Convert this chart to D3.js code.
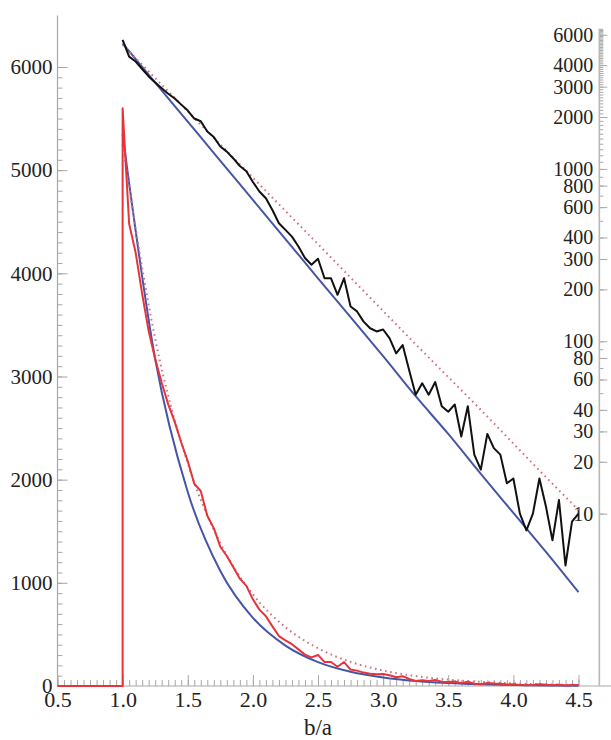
<!DOCTYPE html>
<html><head><meta charset="utf-8">
<script src="https://cdn.jsdelivr.net/npm/d3@7"></script>
<style>
body{margin:0;background:#fff}
</style>
</head><body>
<svg id="c" width="611" height="740"></svg>
<script>
// ---- data ----
// histogram bins of b/a (width 0.05) starting at 1.0
const binX = d3.range(0, 71).map(i => +(1 + i * 0.05).toFixed(2));
const counts = [
  5600, 4480, 4200, 3800, 3440, 3170, 2940, 2730, 2560, 2360,
  2180, 1960, 1890, 1650, 1530, 1350, 1260, 1150, 1040, 970,
  840, 740, 676, 578, 484, 443, 405, 355, 304, 278,
  301, 232, 232, 186, 232, 159, 149, 130, 119, 114,
  117, 104, 85, 95, 68, 49, 57, 49, 58, 42,
  39, 43, 28, 42, 22, 18, 29, 24, 22, 15,
  16, 10, 8, 10, 16, 11, 7, 12, 5, 9, 10
];
// empty range before b/a = 1
const zeroX = [0.5, 1.0];
const zeroCounts = [0, 0];
// fitted curves
const fitX = [1.0, 1.25, 1.5, 1.75, 2.0, 2.25, 2.5, 2.75, 3.0, 3.25, 3.5, 3.75, 4.0, 4.25, 4.5];
const blueFit = [5350, 3170, 1880, 1115, 661, 392, 232, 138, 82, 48, 29, 17, 10.1, 6.0, 3.5];
const dotFit  = [5250, 3365, 2160, 1385, 889, 570, 366, 234, 150, 96, 62, 40, 25.5, 16.3, 10.5];
// ticks
const xMajor = [0.5, 1.0, 1.5, 2.0, 2.5, 3.0, 3.5, 4.0, 4.5];
const xMinor = d3.range(0, 81).map(i => +(0.5 + i * 0.05).toFixed(2));
const yMajor = [0, 1000, 2000, 3000, 4000, 5000, 6000];
const yMinor = d3.range(0, 61).map(i => i * 100);
const logMajor = [10, 20, 30, 40, 60, 80, 100, 200, 300, 400, 600, 800, 1000, 2000, 3000, 4000, 6000];
const logMinor = [10,20,30,40,50,60,70,80,90,100,200,300,400,500,600,700,800,900]
  .concat(d3.range(10, 66).map(i => i * 100));

// ---- layout ----
const W = 611, H = 740;
const FONT = "'Liberation Serif', 'Times New Roman', Times, serif";
const svg = d3.select("#c");
const x = d3.scaleLinear().domain([0.5, 4.5]).range([57.5, 578.5]);
const yLin = d3.scaleLinear().domain([0, 6500]).range([686, 15.4]);
const yLog = d3.scaleLog().domain([1, 6500]).range([686, 28.8]);
const rightX = x(4.66);

const gray = "#a8a8a8";

// left axis
const gL = svg.append("g").attr("transform", `translate(${x(0.5)},0)`);
gL.append("g").call(d3.axisLeft(yLin).tickValues(yMinor).tickSizeInner(-5).tickSizeOuter(0).tickFormat(""));
gL.append("g").call(d3.axisLeft(yLin).tickValues(yMajor).tickSizeInner(-10).tickSizeOuter(0).tickPadding(5).tickFormat(d3.format("d")));
gL.selectAll("text").style("font-size", "21px");

// bottom axis
const gB = svg.append("g").attr("transform", `translate(0,${yLin(0)})`);
gB.append("g").call(d3.axisBottom(x).tickValues(xMinor).tickSizeInner(-6).tickSizeOuter(0).tickFormat(""));
gB.append("g").call(d3.axisBottom(x).tickValues(xMajor).tickSizeInner(-11).tickSizeOuter(0).tickPadding(5).tickFormat(d3.format(".1f")));
gB.selectAll("text").style("font-size", "22px");

// right log axis
const gR = svg.append("g").attr("transform", `translate(${rightX},0)`);
gR.append("g").call(d3.axisLeft(yLog).tickValues(logMinor).tickSizeInner(-4).tickSizeOuter(0).tickFormat(""));
gR.append("g").call(d3.axisLeft(yLog).tickValues(logMajor).tickSizeInner(-8).tickSizeOuter(0).tickPadding(6).tickFormat(d3.format("d")));
gR.selectAll("text").style("font-size", "20px");

svg.selectAll(".domain").remove();
svg.selectAll(".tick line").attr("stroke", gray);

// axis lines
svg.append("line").attr("x1", x(0.5)).attr("x2", x(0.5)).attr("y1", yLin(6500)).attr("y2", yLin(0))
  .attr("stroke", gray).attr("stroke-width", 1.2);
svg.append("line").attr("x1", x(0.5)).attr("x2", W).attr("y1", yLin(0)).attr("y2", yLin(0))
  .attr("stroke", gray).attr("stroke-width", 1.2);
svg.append("line").attr("x1", rightX).attr("x2", rightX).attr("y1", yLog(6500)).attr("y2", yLog(1))
  .attr("stroke", "#b8b8b8").attr("stroke-width", 1.6);

// axis title
svg.append("text").attr("x", x(2.5)).attr("y", 735).attr("text-anchor", "middle")
  .style("font-size", "23px").text("b/a");

svg.selectAll("text").style("font-family", FONT).attr("fill", "#222");

// ---- series ----
const fitPts = fitX.map((v, i) => ({x: v, b: blueFit[i], d: dotFit[i]}));
const histPts = binX.map((v, i) => ({x: v, c: counts[i]}));
const linPts = zeroX.map((v, i) => ({x: v, c: zeroCounts[i]})).concat(histPts);

const blue = "#4656a6", red = "#e8333b", dot = "#d0717d";

// linear: blue fit
svg.append("path").datum(fitPts).attr("fill", "none").attr("stroke", blue).attr("stroke-width", 2)
  .attr("d", d3.line().x(d => x(d.x)).y(d => yLin(d.b)).curve(d3.curveMonotoneX));
// log: blue fit
svg.append("path").datum(fitPts).attr("fill", "none").attr("stroke", blue).attr("stroke-width", 2)
  .attr("d", d3.line().x(d => x(d.x)).y(d => yLog(d.b)).curve(d3.curveMonotoneX));
// dotted fits
svg.append("path").datum(fitPts).attr("fill", "none").attr("stroke", dot).attr("stroke-width", 2)
  .attr("stroke-dasharray", "1.6,3.6")
  .attr("d", d3.line().x(d => x(d.x)).y(d => yLin(d.d)).curve(d3.curveMonotoneX));
svg.append("path").datum(fitPts).attr("fill", "none").attr("stroke", dot).attr("stroke-width", 2)
  .attr("stroke-dasharray", "1.6,3.6")
  .attr("d", d3.line().x(d => x(d.x)).y(d => yLog(d.d)).curve(d3.curveMonotoneX));
// linear histogram (red)
svg.append("path").datum(linPts).attr("fill", "none").attr("stroke", red).attr("stroke-width", 2)
  .attr("stroke-linejoin", "round")
  .attr("d", d3.line().x(d => x(d.x)).y(d => yLin(d.c)));
// log histogram (black)
svg.append("path").datum(histPts).attr("fill", "none").attr("stroke", "#111").attr("stroke-width", 2)
  .attr("stroke-linejoin", "round")
  .attr("d", d3.line().x(d => x(d.x)).y(d => yLog(d.c)));
</script>
</body></html>
